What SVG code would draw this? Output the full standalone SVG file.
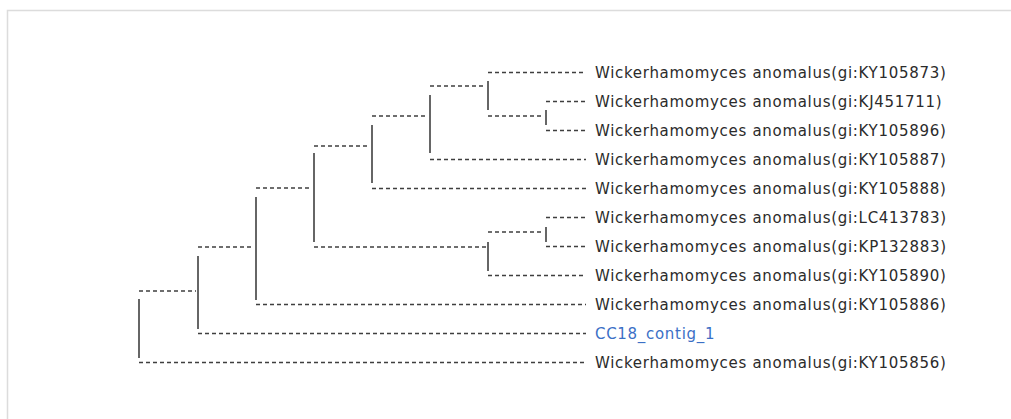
<svg xmlns="http://www.w3.org/2000/svg" width="1011" height="419" viewBox="0 0 1011 419">
<style>
.bg{fill:#ffffff}
.frame{fill:none;stroke:#dcdcdc;stroke-width:1.5}
.h{stroke:#3f3f3f;stroke-width:1.4;stroke-dasharray:4 3;fill:none}
.v{stroke:#666666;stroke-width:2;fill:none}
.lbl{font-family:"DejaVu Sans",Verdana,sans-serif;font-size:15px;letter-spacing:0.7px;fill:#2b2b2b}
.q{fill:#3b6fc6}
</style>
<rect class="bg" x="0" y="0" width="1011" height="419"/>
<path class="frame" d="M7.5,419 V10.5 H1011"/>
<g id="connectors">
<line class="h" x1="488" y1="72.5" x2="586" y2="72.5"/>
<line class="h" x1="546" y1="101.5" x2="586" y2="101.5"/>
<line class="h" x1="546" y1="130.5" x2="586" y2="130.5"/>
<line class="h" x1="430" y1="159.5" x2="586" y2="159.5"/>
<line class="h" x1="372" y1="188.5" x2="586" y2="188.5"/>
<line class="h" x1="546" y1="217.5" x2="586" y2="217.5"/>
<line class="h" x1="546" y1="246.5" x2="586" y2="246.5"/>
<line class="h" x1="488" y1="275.5" x2="586" y2="275.5"/>
<line class="h" x1="256" y1="304.5" x2="586" y2="304.5"/>
<line class="h" x1="198" y1="333.5" x2="586" y2="333.5"/>
<line class="h" x1="139" y1="362.5" x2="586" y2="362.5"/>
<line class="h" x1="488" y1="116" x2="544" y2="116"/>
<line class="h" x1="430" y1="86" x2="486" y2="86"/>
<line class="h" x1="372" y1="116" x2="428" y2="116"/>
<line class="h" x1="314" y1="146" x2="370" y2="146"/>
<line class="h" x1="256" y1="188" x2="312" y2="188"/>
<line class="h" x1="488" y1="232" x2="544" y2="232"/>
<line class="h" x1="314" y1="247" x2="486" y2="247"/>
<line class="h" x1="198" y1="247" x2="254" y2="247"/>
<line class="h" x1="139" y1="291" x2="196" y2="291"/>
</g>
<g id="node-B"><line class="v" x1="546" y1="110" x2="546" y2="125"/></g>
<g id="node-A"><line class="v" x1="488" y1="81" x2="488" y2="110"/></g>
<g id="node-N6"><line class="v" x1="430" y1="95" x2="430" y2="153"/></g>
<g id="node-N4"><line class="v" x1="372" y1="125" x2="372" y2="183"/></g>
<g id="node-N3"><line class="v" x1="314" y1="153" x2="314" y2="242"/></g>
<g id="node-C"><line class="v" x1="546" y1="227" x2="546" y2="242"/></g>
<g id="node-N5"><line class="v" x1="488" y1="242" x2="488" y2="271"/></g>
<g id="node-N2"><line class="v" x1="256" y1="197" x2="256" y2="300"/></g>
<g id="node-N1"><line class="v" x1="198" y1="256" x2="198" y2="329"/></g>
<g id="node-R"><line class="v" x1="139" y1="299" x2="139" y2="358"/></g>
<g id="leaf-KY105873"><text class="lbl" x="595" y="77.7">Wickerhamomyces anomalus(gi:KY105873)</text></g>
<g id="leaf-KJ451711"><text class="lbl" x="595" y="106.7">Wickerhamomyces anomalus(gi:KJ451711)</text></g>
<g id="leaf-KY105896"><text class="lbl" x="595" y="135.7">Wickerhamomyces anomalus(gi:KY105896)</text></g>
<g id="leaf-KY105887"><text class="lbl" x="595" y="164.7">Wickerhamomyces anomalus(gi:KY105887)</text></g>
<g id="leaf-KY105888"><text class="lbl" x="595" y="193.7">Wickerhamomyces anomalus(gi:KY105888)</text></g>
<g id="leaf-LC413783"><text class="lbl" x="595" y="222.7">Wickerhamomyces anomalus(gi:LC413783)</text></g>
<g id="leaf-KP132883"><text class="lbl" x="595" y="251.7">Wickerhamomyces anomalus(gi:KP132883)</text></g>
<g id="leaf-KY105890"><text class="lbl" x="595" y="280.7">Wickerhamomyces anomalus(gi:KY105890)</text></g>
<g id="leaf-KY105886"><text class="lbl" x="595" y="309.7">Wickerhamomyces anomalus(gi:KY105886)</text></g>
<g id="leaf-CC18"><text class="lbl q" x="595" y="338.7">CC18_contig_1</text></g>
<g id="leaf-KY105856"><text class="lbl" x="595" y="367.7">Wickerhamomyces anomalus(gi:KY105856)</text></g>
</svg>
